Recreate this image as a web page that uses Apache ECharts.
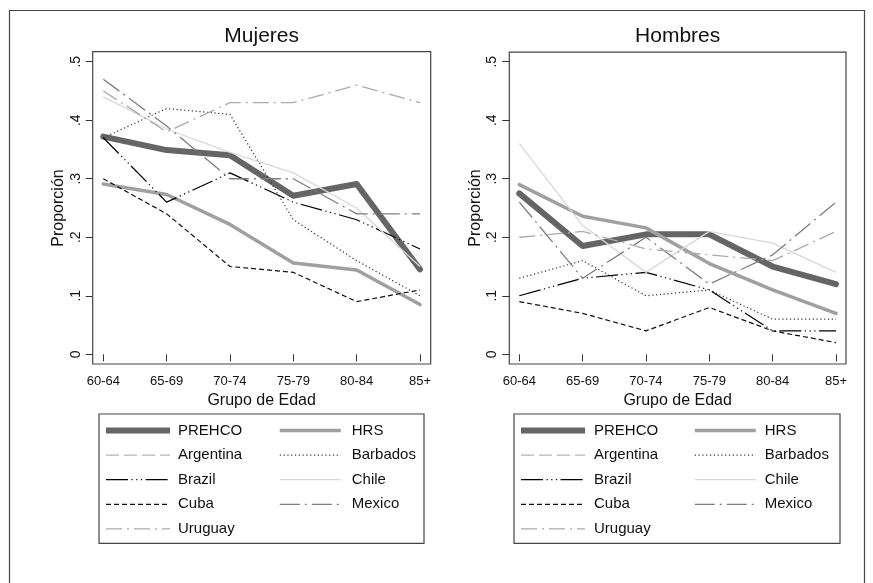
<!DOCTYPE html>
<html>
<head>
<meta charset="utf-8">
<script src="https://cdn.jsdelivr.net/npm/echarts@6/dist/echarts.min.js"></script>
<style>
html,body{margin:0;padding:0;background:#fff;}
#chart{width:873px;height:583px;}
</style>
</head>
<body>
<div id="chart"></div>
<script>
// ---- data ----
const categories = ['60-64','65-69','70-74','75-79','80-84','85+'];
const yTickLabels = ['0','.1','.2','.3','.4','.5'];
const seriesNames = ['PREHCO','HRS','Argentina','Barbados','Brazil','Chile','Cuba','Mexico','Uruguay'];

// Mujeres
const mPrehco    = [0.372, 0.349, 0.340, 0.271, 0.291, 0.145];
const mHrs       = [0.291, 0.273, 0.222, 0.156, 0.144, 0.085];
const mArgentina = [null, null, null, null, null, null];
const mBarbados  = [0.37, 0.42, 0.41, 0.23, 0.16, 0.10];
const mBrazil    = [0.37, 0.26, 0.31, 0.26, 0.23, 0.18];
const mChile     = [0.44, 0.385, 0.345, 0.31, 0.25, 0.15];
const mCuba      = [0.30, 0.24, 0.15, 0.14, 0.09, 0.11];
const mMexico    = [0.47, 0.39, 0.30, 0.30, 0.24, 0.24];
const mUruguay   = [0.45, 0.38, 0.43, 0.43, 0.46, 0.43];

// Hombres
const hPrehco    = [0.275, 0.185, 0.205, 0.205, 0.150, 0.120];
const hHrs       = [0.290, 0.236, 0.216, 0.155, 0.110, 0.070];
const hArgentina = [null, null, null, null, null, null];
const hBarbados  = [0.13, 0.16, 0.10, 0.11, 0.06, 0.06];
const hBrazil    = [0.10, 0.13, 0.14, 0.11, 0.04, 0.04];
const hChile     = [0.36, 0.22, 0.14, 0.21, 0.19, 0.14];
const hCuba      = [0.09, 0.07, 0.04, 0.08, 0.04, 0.02];
const hMexico    = [0.26, 0.13, 0.20, 0.12, 0.17, 0.26];
const hUruguay   = [0.20, 0.21, 0.18, 0.17, 0.16, 0.21];

const mujeres = [mPrehco, mHrs, mArgentina, mBarbados, mBrazil, mChile, mCuba, mMexico, mUruguay];
const hombres = [hPrehco, hHrs, hArgentina, hBarbados, hBrazil, hChile, hCuba, hMexico, hUruguay];

// ---- styles ----
const styles = {
  PREHCO:    {color:'#656565', width:6,   type:'solid'},
  HRS:       {color:'#a0a0a0', width:3.5, type:'solid'},
  Argentina: {color:'#a0a0a0', width:1,   type:[13,5]},
  Barbados:  {color:'#333333', width:1.2, type:[1.2,2.6]},
  Brazil:    {color:'#000000', width:1.2, type:[22,3.5,1.2,3.5,1.2,3.5,1.2,3.5]},
  Chile:     {color:'#d8d8d8', width:1.3, type:'solid'},
  Cuba:      {color:'#111111', width:1.2, type:[5,3]},
  Mexico:    {color:'#7e7e7e', width:1.3, type:[20,5,2,5]},
  Uruguay:   {color:'#ababab', width:1.3, type:[16,5,2,5]}
};

const FONT = '"Liberation Sans", Arial, Helvetica, sans-serif';

function makeAxes(gridIndex, offsetY) {
  return {
    x: {
      type:'category', gridIndex, data:categories, boundaryGap:false,
      offset: 9.7,
      axisLine:{show:false},
      axisTick:{show:true, length:7, lineStyle:{color:'#333', width:1}},
      axisLabel:{fontFamily:FONT, fontSize:13, color:'#111', margin:11, interval:0},
      splitLine:{show:false},
      name:'Grupo de Edad', nameLocation:'middle', nameGap:25,
      nameTextStyle:{fontFamily:FONT, fontSize:16, color:'#111'}
    },
    y: {
      type:'value', gridIndex, min:0, max:0.5, interval:0.1,
      offset: offsetY,
      axisLine:{show:false},
      axisTick:{show:true, length:7, lineStyle:{color:'#333', width:1}},
      axisLabel:{fontFamily:FONT, fontSize:14, color:'#111', rotate:90, margin:10,
        formatter: v => yTickLabels[Math.round(v*10)]},
      splitLine:{show:false},
      name:'Proporción', nameLocation:'middle', nameGap:26,
      nameTextStyle:{fontFamily:FONT, fontSize:16, color:'#111'}
    }
  };
}

const axL = makeAxes(0, 10.6);
const axR = makeAxes(1, 10);

const series = [];
[mujeres, hombres].forEach((panel, gi) => {
  panel.forEach((vals, i) => {
    const nm = seriesNames[i];
    const st = styles[nm];
    series.push({
      name:nm, type:'line', xAxisIndex:gi, yAxisIndex:gi,
      data:vals, showSymbol:false, symbol:'none', connectNulls:false,
      lineStyle:{color:st.color, width:st.width, type:st.type, join:'round', cap: (nm==='PREHCO'||nm==='HRS')?'round':'butt'},
      itemStyle:{color:st.color},
      emphasis:{disabled:true}, silent:true, animation:false
    });
  });
});

function legendData(names) {
  return names.map(n => ({
    name:n,
    lineStyle:{color:styles[n].color, width:styles[n].width, type:styles[n].type, cap:'butt'},
    itemStyle:{color:styles[n].color, opacity:0}
  }));
}
function makeLegend(left, names, itemWidth, pad) {
  return {
    orient:'vertical', left, top:422.5, padding:0,
    itemWidth, itemHeight:14, itemGap:8.6,
    selectedMode:false,
    textStyle:{fontFamily:FONT, fontSize:15, color:'#111', lineHeight:16, padding:[0,0,0,pad]},
    data:legendData(names)
  };
}
const col1 = ['PREHCO','Argentina','Brazil','Cuba','Uruguay'];
const col2 = ['HRS','Barbados','Chile','Mexico'];

const chart = echarts.init(document.getElementById('chart'), null, {renderer:'canvas'});
chart.setOption({
  backgroundColor:'#fff',
  animation:false,
  title:[
    {text:'Mujeres', left:261.7, top:26, textAlign:'center', padding:0,
     textStyle:{fontFamily:FONT, fontSize:21, fontWeight:'normal', color:'#111'}},
    {text:'Hombres', left:677.7, top:26, textAlign:'center', padding:0,
     textStyle:{fontFamily:FONT, fontSize:21, fontWeight:'normal', color:'#111'}}
  ],
  grid:[
    {left:103.3, top:61.7, width:316.7, height:292.6},
    {left:519.3, top:61.7, width:316.7, height:292.6}
  ],
  xAxis:[axL.x, axR.x],
  yAxis:[axL.y, axR.y],
  legend:[
    makeLegend(103, col1, 64, 3),
    makeLegend(278, col2, 61, 6),
    makeLegend(518, col1, 64, 4),
    makeLegend(693, col2, 61, 4)
  ],
  graphic:[
    {type:'rect', shape:{x:9.5, y:10.5, width:855, height:600}, style:{fill:null, stroke:'#444', lineWidth:1.2}, silent:true},
    {type:'rect', shape:{x:92.7, y:51.7, width:338, height:312.3}, style:{fill:null, stroke:'#444', lineWidth:1.2}, silent:true},
    {type:'rect', shape:{x:509.3, y:52.2, width:336.7, height:311.8}, style:{fill:null, stroke:'#444', lineWidth:1.2}, silent:true},
    {type:'rect', shape:{x:99, y:414, width:325, height:129.3}, style:{fill:null, stroke:'#444', lineWidth:1.2}, silent:true},
    {type:'rect', shape:{x:514, y:414, width:326, height:129.3}, style:{fill:null, stroke:'#444', lineWidth:1.2}, silent:true}
  ],
  series
});
</script>
</body>
</html>
